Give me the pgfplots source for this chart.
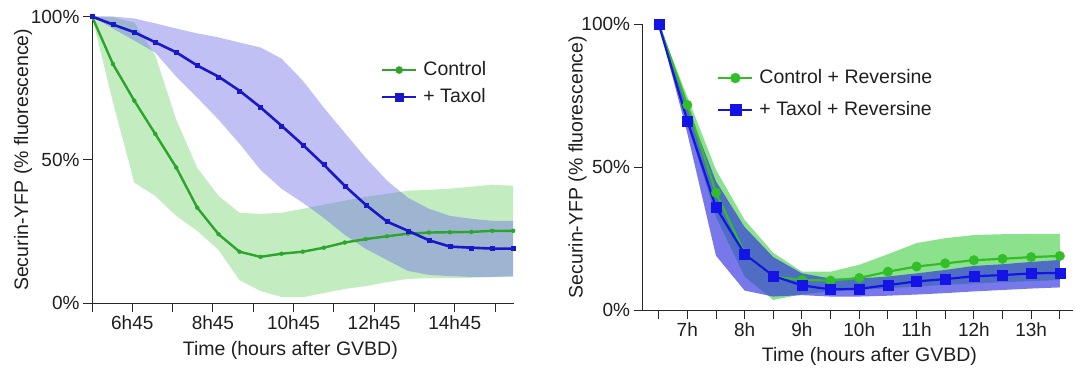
\documentclass[border=0pt]{standalone}
\usepackage{fontspec}
\setmainfont{Liberation Sans}
\usepackage{pgfplots}
\usepackage{pgfplotstable}
\pgfplotsset{compat=1.18}
\usepgfplotslibrary{fillbetween}

\definecolor{glineL}{RGB}{44,165,44}
\definecolor{blineL}{RGB}{24,24,200}
\definecolor{gbandL}{RGB}{195,236,192}
\definecolor{bbandL}{RGB}{115,115,233}
\definecolor{glineR}{RGB}{50,190,40}
\definecolor{blineR}{RGB}{20,20,230}
\definecolor{gbandR}{RGB}{140,225,140}
\definecolor{bbandR}{RGB}{47,47,224}
\definecolor{axcol}{RGB}{40,40,40}

\pgfplotstableread{
x     gline glo  ghi   bline blo   bhi
0.00  100   100  100   100   100   100
0.52  83.4  70.0 99.7  97.2  95.8  100
1.05  70.6  42.0 97.9  94.5  91.6  99.3
1.57  59.0  37.4 86.4  91.0  87.4  97.6
2.09  47.3  30.4 64.0  87.5  79.0  95.8
2.61  33.3  25.2 47.2  82.9  71.7  94.1
3.14  24.0  18.5 37.4  79.0  64.0  92.7
3.66  17.9  8.0  31.5  74.1  55.6  90.9
4.18  16.1  4.2  31.1  68.3  46.5  89.2
4.70  17.2  2.1  31.5  61.9  39.9  85.3
5.23  17.9  2.0  32.9  55.2  35.0  77.6
5.75  19.3  3.5  34.3  48.3  29.7  68.2
6.27  21.1  4.9  35.7  40.9  23.8  59.4
6.79  22.3  5.9  37.1  34.3  18.9  50.7
7.32  23.3  7.3  38.1  28.4  15.0  42.7
7.84  24.2  8.4  39.2  25.2  11.2  36.7
8.36  24.6  8.7  39.5  21.9  9.8   32.9
8.88  24.7  8.7  39.9  19.7  9.4   30.4
9.41  24.8  8.8  40.6  19.3  9.1   29.4
9.93  25.2  9.0  41.3  19.0  9.1   28.7
10.45 25.2  9.1  40.9  19.0  9.4   28.7
}\lefttable

\pgfplotstableread{
x     gline glo  ghi   bline blo   bhi
6.5   100   100  100   100   100   100
7.0   71.7  65.3 74.6  66.2  61.8  71.1
7.5   41.0  32.6 49.0  35.9  19.0  45.0
8.0   19.8  11.7 31.5  19.6  6.8   29.0
8.5   11.7  3.5  20.0  11.9  4.7   18.5
9.0   10.5  5.5  13.4  8.6   5.2   12.8
9.5   10.3  6.5  13.4  7.2   4.7   11.0
10.0  11.2  7.0  15.8  7.4   4.7   11.0
10.5  13.4  7.6  19.5  8.7   5.0   11.7
11.0  15.2  8.2  23.4  10.0  5.4   12.8
11.5  16.3  8.8  25.1  10.8  5.9   14.0
12.0  17.4  9.3  26.2  11.8  6.5   15.4
12.5  17.9  9.7  26.5  12.2  7.0   16.0
13.0  18.5  10.1 26.6  12.8  7.5   16.8
13.5  18.9  10.5 26.6  13.0  7.9   17.5
}\righttable

\pgfplotsset{
  panel/.style={
    scale only axis,
    anchor=south west,
    axis x line=bottom,
    axis y line=left,
    axis line style={-, axcol, line width=0.9pt},
    tick align=outside,
    major tick length=9pt,
    every tick/.style={axcol, line width=0.9pt},
    ymin=0, ymax=100,
    ytick={0,50,100},
    yticklabels={0\%,50\%,100\%},
    tick label style={font=\fontsize{19}{22}\selectfont, text=black!88},
    label style={font=\fontsize{19.5}{23}\selectfont, text=black!88},
    /pgf/number format/assume math mode=true,
    legend style={draw=none, fill=none, inner sep=0pt, column sep=6pt,
      font=\fontsize{19.5}{23}\selectfont, text=black!88,
      nodes={inner sep=0pt, text height=14pt, text depth=4pt}},
    legend cell align=left,
    legend image code/.code={\draw[mark repeat=2,mark phase=2,##1] plot coordinates {(0pt,0pt) (17pt,0pt) (34pt,0pt)};},
  }
}

\begin{document}
\begin{tikzpicture}
\path (0pt,0pt) rectangle (1076pt,-374pt);

% ---------- left panel ----------
\begin{axis}[panel,
  at={(92pt,-303pt)}, width=422pt, height=286.5pt,
  xmin=0, xmax=10.47,
  xtick={0,1,2,3,4,5,6,7,8,9,10},
  xticklabels={,6h45,,8h45,,10h45,,12h45,,14h45,},
  xlabel={Time (hours after GVBD)},
  ylabel={Securin-YFP (\% fluorescence)},
  xlabel style={at={(axis description cs:0.47,-0.164)}, anchor=center},
  ylabel style={at={(axis description cs:-0.1635,0.5)}, anchor=center},
  legend style={at={(axis description cs:0.684,0.766)}, anchor=west, row sep=9pt},
]
\addplot[draw=none, name path=ghiL, forget plot] table[x=x,y=ghi]{\lefttable};
\addplot[draw=none, name path=gloL, forget plot] table[x=x,y=glo]{\lefttable};
\addplot[fill=gbandL, draw=none, forget plot] fill between[of=ghiL and gloL];
\addplot[draw=none, name path=bhiL, forget plot] table[x=x,y=bhi]{\lefttable};
\addplot[draw=none, name path=bloL, forget plot] table[x=x,y=blo]{\lefttable};
\addplot[fill=bbandL, fill opacity=0.45, draw=none, forget plot] fill between[of=bhiL and bloL];
\addplot[glineL, line width=2.4pt, mark=*, mark size=2pt, mark options={line width=0.3pt}, forget plot] table[x=x,y=gline]{\lefttable};
\addplot[blineL, line width=2.6pt, mark=square*, mark size=2pt, mark options={line width=0.3pt}, forget plot] table[x=x,y=bline]{\lefttable};
\addlegendimage{glineL, line width=2.4pt, mark=*, mark size=3.6pt, mark options={line width=0.3pt}}
\addlegendentry{Control}
\addlegendimage{blineL, line width=2.6pt, mark=square*, mark size=3.8pt, mark options={line width=0.3pt}}
\addlegendentry{+ Taxol}
\end{axis}

% ---------- right panel ----------
\begin{axis}[panel,
  at={(642.6pt,-310pt)}, width=430.4pt, height=286pt,
  xmin=6.22, xmax=13.73,
  xtick={6.5,7,7.5,8,8.5,9,9.5,10,10.5,11,11.5,12,12.5,13,13.5},
  xticklabels={,7h,,8h,,9h,,10h,,11h,,12h,,13h,},
  xlabel={Time (hours after GVBD)},
  ylabel={Securin-YFP (\% fluorescence)},
  xlabel style={at={(axis description cs:0.527,-0.164)}, anchor=center},
  ylabel style={at={(axis description cs:-0.151,0.5)}, anchor=center},
  legend style={at={(axis description cs:0.173,0.755)}, anchor=west, row sep=14pt},
]
\addplot[draw=none, name path=ghiR, forget plot] table[x=x,y=ghi]{\righttable};
\addplot[draw=none, name path=gloR, forget plot] table[x=x,y=glo]{\righttable};
\addplot[fill=gbandR, draw=none, forget plot] fill between[of=ghiR and gloR];
\addplot[draw=none, name path=bhiR, forget plot] table[x=x,y=bhi]{\righttable};
\addplot[draw=none, name path=bloR, forget plot] table[x=x,y=blo]{\righttable};
\addplot[fill=bbandR, fill opacity=0.65, draw=none, forget plot] fill between[of=bhiR and bloR];
\addplot[glineR, line width=2.2pt, mark=*, mark size=4.8pt, mark options={line width=0.3pt}, forget plot] table[x=x,y=gline]{\righttable};
\addplot[blineR, line width=2.2pt, mark=square*, mark size=5pt, mark options={line width=0.3pt}, forget plot] table[x=x,y=bline]{\righttable};
\addlegendimage{glineR, line width=2.2pt, mark=*, mark size=5pt, mark options={line width=0.3pt}}
\addlegendentry{Control + Reversine}
\addlegendimage{blineR, line width=2.2pt, mark=square*, mark size=5.5pt, mark options={line width=0.3pt}}
\addlegendentry{+ Taxol + Reversine}
\end{axis}
\end{tikzpicture}
\end{document}
